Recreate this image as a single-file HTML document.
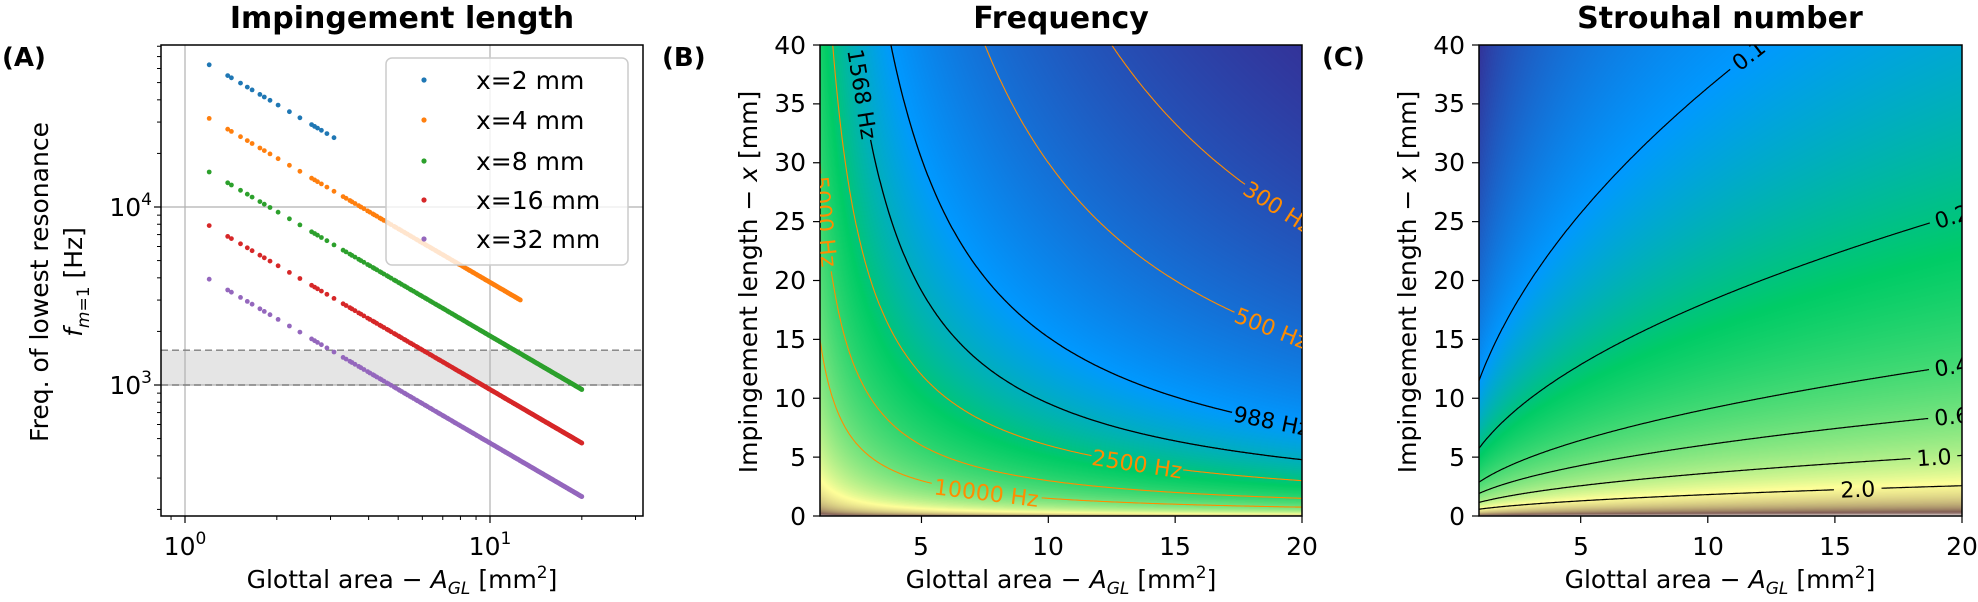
<!DOCTYPE html>
<html><head><meta charset="utf-8">
<style>
html,body{margin:0;padding:0;background:#fff;}
#wrap{position:relative;width:1978px;height:602px;overflow:hidden;background:#fff;}
canvas{position:absolute;}
svg{position:absolute;left:0;top:0;}
text{font-family:"DejaVu Sans","Liberation Sans",sans-serif;fill:#000;}
</style></head>
<body>
<div id="wrap">
<canvas id="cb" width="482" height="471" style="left:820px;top:45px"></canvas>
<canvas id="cc" width="483" height="471" style="left:1479px;top:45px"></canvas>
<svg id="s" width="1978" height="602" viewBox="0 0 1978 602">
<defs>
<clipPath id="clipA"><rect x="161" y="45" width="482" height="471"/></clipPath>
<clipPath id="clipB"><rect x="820" y="45" width="482" height="471"/></clipPath>
<clipPath id="clipC"><rect x="1479" y="45" width="483" height="471"/></clipPath>
</defs>
<g id="gA"></g>
<text x="402" y="28" font-size="30" font-weight="bold" text-anchor="middle">Impingement length</text>
<text x="2" y="66" font-size="26" font-weight="bold">(A)</text>
<text transform="translate(48,282) rotate(-90)" font-size="25" text-anchor="middle">Freq. of lowest resonance</text>
<text transform="translate(82,282) rotate(-90)" font-size="25" text-anchor="middle"><tspan font-style="italic">f</tspan><tspan font-size="17" dy="7"><tspan font-style="italic">m</tspan>=1</tspan><tspan dy="-7"> [Hz]</tspan></text>
<text x="152" y="216" font-size="25" text-anchor="end">10<tspan font-size="17" dy="-11">4</tspan></text>
<text x="152" y="394" font-size="25" text-anchor="end">10<tspan font-size="17" dy="-11">3</tspan></text>
<text x="185" y="555" font-size="25" text-anchor="middle">10<tspan font-size="17" dy="-11">0</tspan></text>
<text x="490" y="555" font-size="25" text-anchor="middle">10<tspan font-size="17" dy="-11">1</tspan></text>
<text x="402" y="588" font-size="25" text-anchor="middle">Glottal area − <tspan font-style="italic">A</tspan><tspan font-size="17" dy="6" font-style="italic">GL</tspan><tspan dy="-6"> [mm</tspan><tspan font-size="17" dy="-10">2</tspan><tspan dy="10">]</tspan></text>
<g id="gB"></g>
<text x="1061" y="28" font-size="30" font-weight="bold" text-anchor="middle">Frequency</text>
<text x="662" y="66" font-size="26" font-weight="bold">(B)</text>
<text transform="translate(757,282) rotate(-90)" font-size="25" text-anchor="middle">Impingement length − <tspan font-style="italic">x</tspan> [mm]</text>
<text x="1061" y="588" font-size="25" text-anchor="middle">Glottal area − <tspan font-style="italic">A</tspan><tspan font-size="17" dy="6" font-style="italic">GL</tspan><tspan dy="-6"> [mm</tspan><tspan font-size="17" dy="-10">2</tspan><tspan dy="10">]</tspan></text>
<g id="gC"></g>
<text x="1720" y="28" font-size="30" font-weight="bold" text-anchor="middle">Strouhal number</text>
<text x="1322" y="66" font-size="26" font-weight="bold">(C)</text>
<text transform="translate(1416,282) rotate(-90)" font-size="25" text-anchor="middle">Impingement length − <tspan font-style="italic">x</tspan> [mm]</text>
<text x="1720" y="588" font-size="25" text-anchor="middle">Glottal area − <tspan font-style="italic">A</tspan><tspan font-size="17" dy="6" font-style="italic">GL</tspan><tspan dy="-6"> [mm</tspan><tspan font-size="17" dy="-10">2</tspan><tspan dy="10">]</tspan></text>
<g font-size="25" text-anchor="middle">
<text x="921" y="555">5</text><text x="1048" y="555">10</text><text x="1175" y="555">15</text><text x="1302" y="555">20</text>
<text x="1581" y="555">5</text><text x="1708" y="555">10</text><text x="1835" y="555">15</text><text x="1962" y="555">20</text>
</g>
<g font-size="25" text-anchor="end">
<text x="806" y="525">0</text><text x="806" y="466">5</text><text x="806" y="407">10</text><text x="806" y="348">15</text><text x="806" y="289">20</text><text x="806" y="230">25</text><text x="806" y="171">30</text><text x="806" y="112">35</text><text x="806" y="54">40</text>
<text x="1465" y="525">0</text><text x="1465" y="466">5</text><text x="1465" y="407">10</text><text x="1465" y="348">15</text><text x="1465" y="289">20</text><text x="1465" y="230">25</text><text x="1465" y="171">30</text><text x="1465" y="112">35</text><text x="1465" y="54">40</text>
</g>
<g id="leg">
<rect x="386" y="58" width="242" height="207" rx="6" ry="6" fill="#fff" fill-opacity="0.8" stroke="#cccccc" stroke-width="1.5"/>
<circle cx="424" cy="80" r="2.6" fill="#1f77b4"/>
<circle cx="424" cy="120" r="2.6" fill="#ff7f0e"/>
<circle cx="424" cy="161" r="2.6" fill="#2ca02c"/>
<circle cx="424" cy="200" r="2.6" fill="#d62728"/>
<circle cx="424" cy="239" r="2.6" fill="#9467bd"/>
<g font-size="25">
<text x="476" y="89">x=2 mm</text>
<text x="476" y="129">x=4 mm</text>
<text x="476" y="170">x=8 mm</text>
<text x="476" y="209">x=16 mm</text>
<text x="476" y="248">x=32 mm</text>
</g>
</g>
<g id="bLabels" clip-path="url(#clipB)" font-size="22"></g>
<g id="cLabels" clip-path="url(#clipC)" font-size="22"></g>
</svg>
</div>
<script>
(function(){
var NS="http://www.w3.org/2000/svg";
function el(tag,attrs,parent){var e=document.createElementNS(NS,tag);for(var k in attrs)e.setAttribute(k,attrs[k]);if(parent)parent.appendChild(e);return e;}
var gA=document.getElementById('gA'),gB=document.getElementById('gB'),gC=document.getElementById('gC');
function ax(A){return 185+305*Math.log10(A);}
function ay(f){return 207-178*(Math.log10(f)-4);}
var yb=ay(1000),yt=ay(1568);
el('rect',{x:161,y:yt,width:482,height:yb-yt,fill:'#e5e5e5'},gA);
var grid={stroke:'#b0b0b0','stroke-width':1.2};
el('line',Object.assign({x1:185,y1:45,x2:185,y2:516},grid),gA);
el('line',Object.assign({x1:490,y1:45,x2:490,y2:516},grid),gA);
el('line',Object.assign({x1:161,y1:207,x2:643,y2:207},grid),gA);
el('line',Object.assign({x1:161,y1:385,x2:643,y2:385},grid),gA);
el('line',{x1:161,y1:yb,x2:643,y2:yb,stroke:'#808080','stroke-width':1.4,'stroke-dasharray':'7,4'},gA);
el('line',{x1:161,y1:yt,x2:643,y2:yt,stroke:'#808080','stroke-width':1.4,'stroke-dasharray':'7,4'},gA);
var As=[1.2,1.38,1.42,1.52,1.6,1.66,1.76,1.82,1.9,2.02,2.2,2.38,2.6,2.66,2.72,2.8,2.92,3.08];
var a=3.3;var k=0;
while(a<=20.001){As.push(a);k++;a+=0.05+0.06*((k*37)%11)/10;}
As.push(20);
var cols=['#1f77b4','#ff7f0e','#2ca02c','#d62728','#9467bd'];
var xs=[2,4,8,16,32];var maxA=[3.1,12.6,20,20,20];
var gd=el('g',{'clip-path':'url(#clipA)'},gA);
for(var s=0;s<5;s++){
 for(var i=0;i<As.length;i++){var A=As[i];if(A>maxA[s]+1e-6)continue;
  var f=151000/(A*xs[s]);
  el('circle',{cx:ax(A).toFixed(1),cy:ay(f).toFixed(1),r:2.4,fill:cols[s]},gd);}
}
el('rect',{x:161,y:45,width:482,height:471,fill:'none',stroke:'#000','stroke-width':1.5},gA);
function tk(g,x1,y1,x2,y2,w){el('line',{x1:x1,y1:y1,x2:x2,y2:y2,stroke:'#000','stroke-width':w||1.2},g);}
tk(gA,185,516,185,523);tk(gA,490,516,490,523);
[0.9,2,3,4,5,6,7,8,9,20,30].forEach(function(v){var x=ax(v);tk(gA,x,516,x,520,1);});
tk(gA,154,207,161,207);tk(gA,154,385,161,385);
[200,300,400,500,600,700,800,900,2000,3000,4000,5000,6000,7000,8000,9000,20000,30000,40000,50000,60000,70000,80000].forEach(function(v){var y=ay(v);if(y>45&&y<516)tk(gA,157,y,161,y,1);});
var T=[[0,.2,.2,.6],[.15,0,.6,1],[.25,0,.8,.4],[.5,1,1,.6],[.75,.5,.36,.33],[1,1,1,1]];
function terr(t){if(t<0)t=0;if(t>1)t=1;for(var i=0;i<T.length-1;i++){if(t<=T[i+1][0]){var u=(t-T[i][0])/(T[i+1][0]-T[i][0]);return [T[i][1]+u*(T[i+1][1]-T[i][1]),T[i][2]+u*(T[i+1][2]-T[i][2]),T[i][3]+u*(T[i+1][3]-T[i][3])];}}return [1,1,1];}
function paint(id,w,h,fn){var c=document.getElementById(id),ctx=c.getContext('2d');var im=ctx.createImageData(w,h);
 for(var py=0;py<h;py++){var xm=(471-(py+0.5))/11.775;for(var px=0;px<w;px++){var A=1+(px+0.5)*19/w;var t=fn(A,xm);var c3=terr(t);var o=(py*w+px)*4;im.data[o]=c3[0]*255;im.data[o+1]=c3[1]*255;im.data[o+2]=c3[2]*255;im.data[o+3]=255;}}
 ctx.putImageData(im,0,0);}
var lf0=Math.log10(187);
paint('cb',482,471,function(A,x){return (Math.log10(150000/(A*x))-lf0)/4.8;});
var ls0=Math.log10(0.029);
paint('cc',483,471,function(A,x){return (Math.log10(1.15*Math.sqrt(A)/x)-ls0)/3.6;});
function bx(A){return 820+(A-1)*482/19;}function cx(A){return 1479+(A-1)*483/19;}
function yy(x){return 516-x*11.775;}
function drawCurve(g,X,xfun,color,w,lab,labG){
 var pts=[];for(var i=0;i<=600;i++){var A=1+19*i/600;var xm=xfun(A);if(xm>41||xm<0)continue;pts.push([X(A),yy(xm)]);}
 var L=null;
 if(lab){var A0=lab.A,px0=X(A0),py0=yy(xfun(A0));var dA=0.02,p2x=X(A0+dA),p2y=yy(xfun(A0+dA)),p1x=X(A0-dA),p1y=yy(xfun(A0-dA));
  var ang=Math.atan2(p2y-p1y,p2x-p1x);if(ang>Math.PI/2)ang-=Math.PI;if(ang<-Math.PI/2)ang+=Math.PI;
  L={x:px0,y:py0,c:Math.cos(ang),s:Math.sin(ang),deg:ang*180/Math.PI};
  var t=el('text',{x:px0.toFixed(1),y:(py0+8).toFixed(1),'text-anchor':'middle',fill:lab.col||color,transform:'rotate('+L.deg.toFixed(1)+' '+px0.toFixed(1)+' '+py0.toFixed(1)+')'},labG);t.textContent=lab.t;t.style.fill=lab.col||color;}
 var d='',pen=false;
 pts.forEach(function(p){var skip=false;if(L){var dx=p[0]-L.x,dy=p[1]-L.y;var along=Math.abs(dx*L.c+dy*L.s),perp=Math.abs(-dx*L.s+dy*L.c);if(along<lab.w/2+5&&perp<14)skip=true;}
  if(skip){pen=false;return;}d+=(pen?'L':'M')+p[0].toFixed(1)+' '+p[1].toFixed(1);pen=true;});
 el('path',{d:d,fill:'none',stroke:color,'stroke-width':w},g);
}
var bL=document.getElementById('bLabels'),cL=document.getElementById('cLabels');
var gBc=el('g',{'clip-path':'url(#clipB)'},gB);
var OR='#ff8c00';
drawCurve(gBc,bx,function(A){return 150000/300/A;},OR,1.1,{A:19.06,t:'300 Hz',w:70},bL);
drawCurve(gBc,bx,function(A){return 150000/500/A;},OR,1.1,{A:18.8,t:'500 Hz',w:70},bL);
drawCurve(gBc,bx,function(A){return 150000/988/A;},'#000',1.3,{A:18.8,t:'988 Hz',w:70},bL);
drawCurve(gBc,bx,function(A){return 150000/1568/A;},'#000',1.3,{A:2.67,t:'1568 Hz',w:82},bL);
drawCurve(gBc,bx,function(A){return 150000/2500/A;},OR,1.1,{A:13.5,t:'2500 Hz',w:82},bL);
drawCurve(gBc,bx,function(A){return 150000/5000/A;},OR,1.1,{A:1.2,t:'5000 Hz',w:82},bL);
drawCurve(gBc,bx,function(A){return 150000/10000/A;},OR,1.1,{A:7.56,t:'10000 Hz',w:100},bL);
el('rect',{x:820,y:45,width:482,height:471,fill:'none',stroke:'#000','stroke-width':1.5},gB);
var gCc=el('g',{'clip-path':'url(#clipC)'},gC);
[[0.1,11.6,'0.1',36],[0.2,19.6,'0.2',36],[0.4,19.6,'0.4',36],[0.6,19.6,'0.6',36],[1.0,18.9,'1.0',36],[2.0,15.9,'2.0',36]].forEach(function(q){
 var kk=1.15/q[0];drawCurve(gCc,cx,function(A){return kk*Math.sqrt(A);},'#000',1.2,{A:q[1],t:q[2],w:q[3]},cL);});
el('rect',{x:1479,y:45,width:483,height:471,fill:'none',stroke:'#000','stroke-width':1.5},gC);
[[gB,bx,813],[gC,cx,1472]].forEach(function(z){
 [5,10,15,20].forEach(function(v){var x=z[1](v);tk(z[0],x,516,x,523);});
 for(var v=0;v<=40;v+=5){var y=yy(v);tk(z[0],z[2],y,z[2]+7,y);}
});
})();
</script>
</body></html>
